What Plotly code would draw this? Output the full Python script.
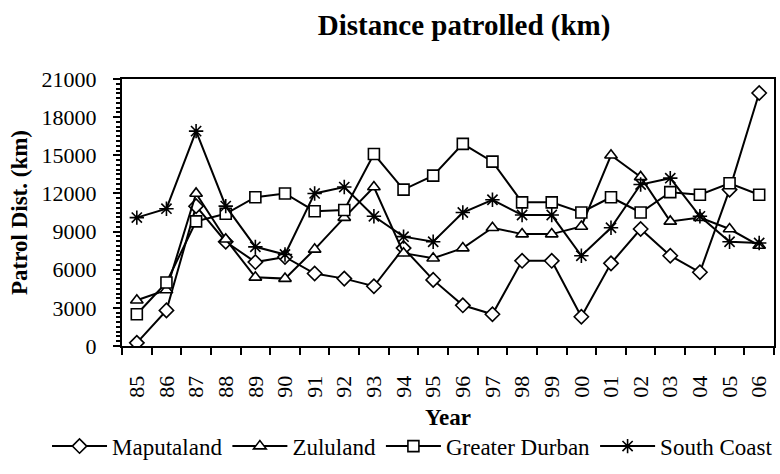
import plotly.graph_objects as go

years = ["85", "86", "87", "88", "89", "90", "91", "92", "93", "94", "95",
         "96", "97", "98", "99", "00", "01", "02", "03", "04", "05", "06"]

maputaland = [250, 2800, 11000, 8200, 6600, 7000, 5700, 5300, 4700, 7700, 5200,
              3200, 2500, 6700, 6700, 2300, 6500, 9200, 7100, 5800, 12300, 19900]
zululand = [3600, 4400, 12000, 8400, 5400, 5300, 7600, 10100, 12500, 7300, 6900,
            7700, 9300, 8800, 8800, 9400, 15000, 13300, 9800, 10100, 9200, 7900]
greater_durban = [2500, 5000, 9800, 10400, 11700, 12000, 10600, 10700, 15100, 12300, 13400,
                  15900, 14500, 11300, 11300, 10500, 11700, 10500, 12100, 11900, 12800, 11900]
south_coast = [10100, 10800, 16900, 11000, 7800, 7200, 12000, 12500, 10200, 8600, 8200,
               10500, 11500, 10300, 10300, 7100, 9300, 12700, 13200, 10200, 8200, 8100]

series = [
    ("Maputaland", maputaland, "diamond", 11, "white"),
    ("Zululand", zululand, "triangle-up", 11, "white"),
    ("Greater Durban", greater_durban, "square", 11, "white"),
    ("South Coast", south_coast, "asterisk-open", 12, "black"),
]

FONT = "Liberation Serif, Times New Roman, serif"

fig = go.Figure()
for name, vals, sym, size, fill in series:
    fig.add_trace(go.Scatter(
        x=years, y=vals, name=name, mode="lines+markers",
        line=dict(color="black", width=2),
        marker=dict(symbol=sym, size=size, color=fill,
                    line=dict(color="black", width=1.6)),
    ))

fig.update_layout(
    width=780, height=474,
    margin=dict(l=122, r=6, t=79, b=124),
    paper_bgcolor="white", plot_bgcolor="white",
    font=dict(family=FONT, size=22, color="black"),
    title=dict(text="<b>Distance patrolled (km)</b>", x=0.595, xanchor="center",
               y=0.947, yanchor="middle", font=dict(size=29, family=FONT)),
    showlegend=True,
    legend=dict(orientation="h", xref="paper", yref="paper",
                x=-0.115, xanchor="left", y=-0.375, yanchor="middle",
                font=dict(size=23, family=FONT), itemwidth=55,
                tracegroupgap=0, bgcolor="rgba(0,0,0,0)"),
    annotations=[dict(text="<b>Year</b>", xref="paper", yref="paper", x=0.5, y=-0.266,
                      xanchor="center", yanchor="middle", showarrow=False,
                      font=dict(size=23, family=FONT))],
)

fig.update_xaxes(
    type="category", range=[-0.5, 21.5], automargin=False,
    tickson="boundaries", ticks="outside", ticklen=7, tickwidth=2, tickcolor="black",
    tickangle=-90, tickfont=dict(size=22, family=FONT), ticklabelstandoff=19,
    showline=True, linecolor="black", linewidth=2, mirror=True,
    showgrid=False, zeroline=False,
)
fig.update_yaxes(
    range=[0, 21000], tick0=0, dtick=3000, tickformat="d", automargin=False,
    ticks="outside", ticklen=7, tickwidth=2, tickcolor="black",
    minor=dict(dtick=375, ticks="outside", ticklen=4, tickwidth=1.5, tickcolor="black"),
    tickfont=dict(size=22, family=FONT), ticklabelstandoff=12,
    showline=True, linecolor="black", linewidth=2, mirror=True,
    showgrid=False, zeroline=False,
    title=dict(text="<b>Patrol Dist. (km)</b>", font=dict(size=23, family=FONT), standoff=8),
)

fig.write_html("out.html", post_script="document.body.style.margin='0';",
               config={"displayModeBar": False})
